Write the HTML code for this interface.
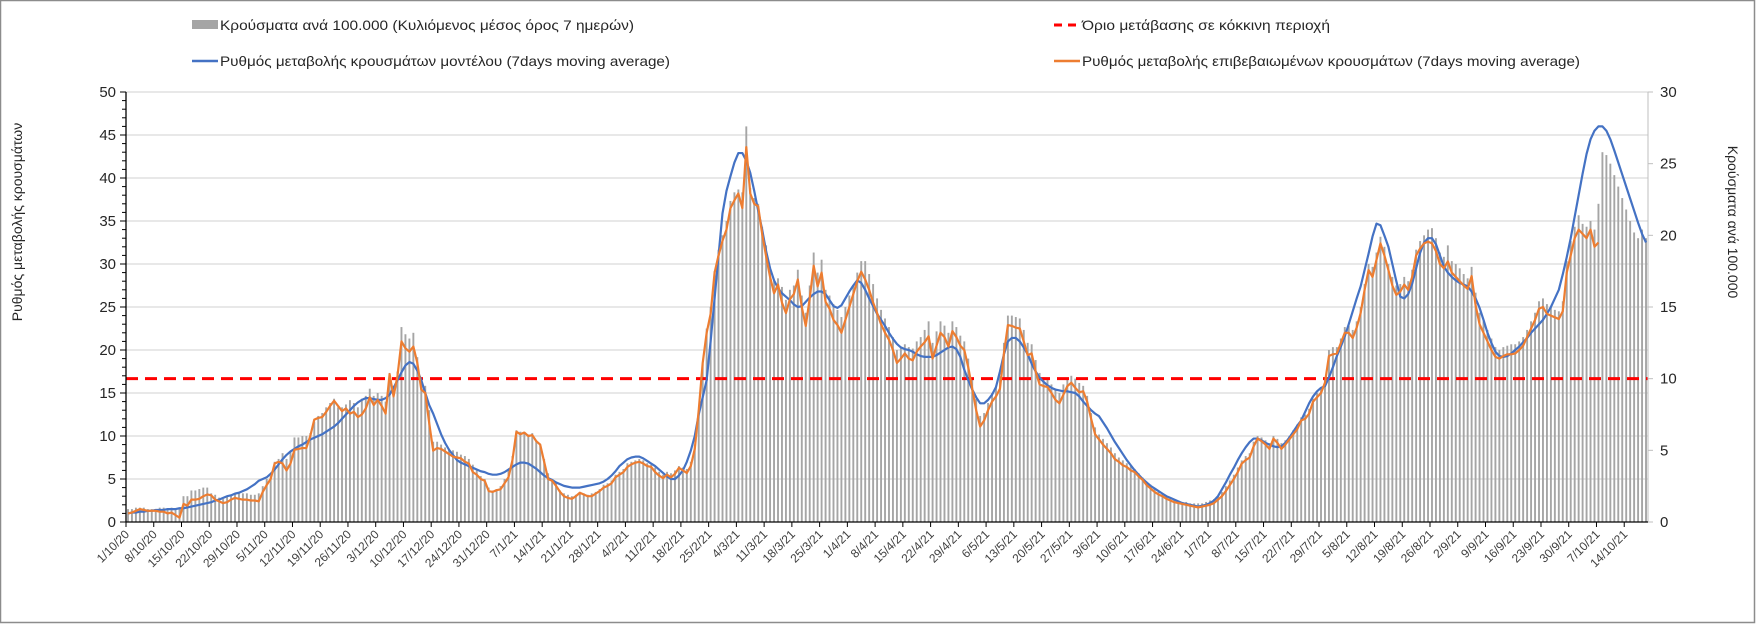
<!DOCTYPE html>
<html>
<head>
<meta charset="utf-8">
<style>
  html,body{margin:0;padding:0;background:#fff;}
  svg{display:block;font-family:"Liberation Sans","DejaVu Sans",sans-serif;}
</style>
</head>
<body>
<svg id="chart" width="1756" height="625" viewBox="0 0 1756 625" xmlns="http://www.w3.org/2000/svg">
  <rect x="0.5" y="0.5" width="1754" height="622" fill="#fff" stroke="#8c8c8c" stroke-width="1.5"/>
  <g id="grid"></g>
  <g id="bars"></g>
  <g id="lines"></g>
  <g id="axes"></g>

  <!-- legend -->
  <g>
    <g>
      <rect x="192" y="20" width="26" height="9" fill="#a5a5a5"/>
      <text x="220" y="30" font-size="14" fill="#262626" textLength="414" lengthAdjust="spacingAndGlyphs">Κρούσματα ανά 100.000 (Κυλιόμενος μέσος όρος 7 ημερών)</text>
    </g>
    <g>
      <line x1="192" y1="61" x2="218" y2="61" stroke="#4472c4" stroke-width="2.5"/>
      <text x="220" y="66" font-size="14" fill="#262626" textLength="450" lengthAdjust="spacingAndGlyphs">Ρυθμός μεταβολής κρουσμάτων μοντέλου (7days moving average)</text>
    </g>
    <g>
      <line x1="1054" y1="25" x2="1080" y2="25" stroke="#ff0000" stroke-width="3" stroke-dasharray="8,6"/>
      <text x="1082" y="30" font-size="14" fill="#262626" textLength="248" lengthAdjust="spacingAndGlyphs">Όριο μετάβασης  σε κόκκινη περιοχή</text>
    </g>
    <g>
      <line x1="1054" y1="61" x2="1080" y2="61" stroke="#ed7d31" stroke-width="2.5"/>
      <text x="1082" y="66" font-size="14" fill="#262626" textLength="498" lengthAdjust="spacingAndGlyphs">Ρυθμός μεταβολής επιβεβαιωμένων κρουσμάτων (7days moving average)</text>
    </g>
  </g>

  <text x="0" y="0" font-size="14" fill="#262626" text-anchor="middle" transform="translate(22,222) rotate(-90)">Ρυθμός μεταβολής κρουσμάτων</text>
  <text x="0" y="0" font-size="14" fill="#262626" text-anchor="middle" transform="translate(1728,222) rotate(90)">Κρούσματα ανά 100.000</text>
</svg>

<script>
// ---- data ----
const startDate = [2020, 9, 1]; // 1 Oct 2020 (month index 9)
const dayCount = 384;
const leftTicks = [0,5,10,15,20,25,30,35,40,45,50];
const rightTicks = [0,5,10,15,20,25,30];
const redThreshold = 10; // right axis units

const modelRate = [
1.0,1.1,1.1,1.2,1.2,1.3,1.3,
1.4,1.4,1.4,1.5,1.5,1.5,1.6,
1.6,1.7,1.8,1.9,2.0,2.1,2.2,
2.3,2.5,2.6,2.8,3.0,3.1,3.3,
3.4,3.6,3.8,4.1,4.4,4.8,5.0,
5.2,5.6,6.1,6.7,7.3,7.8,8.2,
8.5,8.8,9.0,9.3,9.6,9.8,10.0,
10.2,10.5,10.8,11.1,11.5,12.0,12.5,
13.0,13.5,13.9,14.2,14.4,14.4,14.3,
14.2,14.2,14.4,14.8,15.6,16.5,17.4,
18.2,18.6,18.4,17.6,16.5,15.0,13.6,
12.6,11.4,10.2,9.2,8.4,7.8,7.2,
6.9,6.7,6.5,6.3,6.1,5.9,5.8,
5.6,5.5,5.5,5.6,5.8,6.1,6.4,
6.7,6.9,6.9,6.8,6.5,6.2,5.8,
5.4,5.1,4.9,4.6,4.4,4.2,4.1,
4.0,4.0,4.0,4.1,4.2,4.3,4.4,
4.5,4.7,5.0,5.4,5.9,6.5,6.9,
7.3,7.5,7.6,7.6,7.4,7.1,6.8,
6.5,6.1,5.7,5.3,5.0,5.0,5.4,
6.0,7.0,8.3,10.0,12.5,14.5,16.5,
21.0,26.0,31.0,35.9,38.5,40.2,41.8,
42.9,42.9,42.0,40.6,38.5,36.2,34.0,
31.5,29.5,28.1,27.2,26.6,26.2,25.8,
25.3,25.0,25.1,25.6,26.1,26.5,26.8,
26.8,26.5,25.8,25.1,24.9,25.2,26.0,
26.8,27.5,28.1,27.8,27.0,26.0,25.1,
24.2,23.5,22.8,22.0,21.3,20.7,20.3,
20.1,20.0,19.8,19.5,19.3,19.2,19.2,
19.2,19.4,19.7,20.0,20.3,20.4,20.1,
19.2,17.7,16.5,15.4,14.5,13.8,13.8,
14.2,14.8,15.7,17.5,19.5,21.0,21.4,
21.4,21.0,20.3,19.5,18.4,17.5,16.8,
16.3,15.9,15.6,15.4,15.3,15.2,15.2,
15.1,15.0,14.6,14.0,13.5,13.0,12.6,
12.3,11.6,10.9,10.1,9.3,8.6,7.9,
7.2,6.6,6.0,5.5,5.0,4.6,4.2,
3.9,3.6,3.3,3.0,2.8,2.6,2.4,
2.2,2.1,2.0,1.9,1.8,1.9,2.0,
2.2,2.5,3.0,3.8,4.6,5.5,6.3,
7.2,8.0,8.7,9.3,9.7,9.7,9.5,
9.2,9.0,8.8,8.7,8.8,9.2,9.8,
10.5,11.2,11.8,12.8,13.8,14.6,15.2,
15.6,15.8,16.8,18.0,19.3,20.4,21.6,
23.0,24.5,26.0,27.4,29.3,31.2,33.2,
34.7,34.5,33.3,32.0,30.0,28.0,26.2,
26.0,26.5,27.7,29.5,31.3,32.5,33.0,
33.0,32.3,31.0,29.7,29.0,28.5,28.1,
27.8,27.6,27.4,26.8,26.0,24.9,23.5,
22.0,20.8,19.8,19.3,19.2,19.3,19.6,
20.0,20.4,20.9,21.4,22.0,22.5,23.0,
23.5,24.2,25.0,26.0,27.0,28.8,30.8,
33.0,35.5,38.0,40.5,42.8,44.5,45.5,
46.0,46.0,45.5,44.5,43.2,41.8,40.4,
39.0,37.6,36.2,34.8,33.5,32.5
];

const confirmedRate = [
1.0,1.1,1.3,1.5,1.4,1.3,1.3,
1.3,1.2,1.2,1.0,1.1,0.8,0.5,
2.1,1.9,2.6,2.6,2.7,3.0,3.2,
3.1,2.6,2.4,2.2,2.3,2.6,2.8,
2.7,2.6,2.6,2.5,2.5,2.4,3.5,
4.3,5.0,6.8,7.0,6.8,6.0,6.8,
8.4,8.5,8.6,8.6,10.0,11.9,12.1,
12.2,12.8,13.5,14.1,13.5,12.9,13.2,
12.6,12.8,12.2,12.5,13.2,14.5,13.6,
14.2,13.5,12.6,17.2,14.6,17.0,21.0,
20.2,19.8,20.4,18.5,15.4,15.0,11.5,
8.3,8.6,8.5,8.2,7.9,7.6,7.5,
7.4,7.0,6.8,5.8,5.5,5.0,4.8,
3.6,3.5,3.7,3.8,4.5,5.2,7.2,
10.5,10.2,10.4,10.0,10.1,9.4,9.0,
7.0,5.0,4.8,4.2,3.5,3.0,2.8,
2.7,3.0,3.4,3.2,3.0,3.0,3.3,
3.6,4.0,4.2,4.5,5.2,5.5,5.8,
6.4,6.7,6.9,7.0,6.8,6.5,6.4,
5.8,5.4,5.1,5.5,5.2,5.6,6.3,
6.0,5.7,6.5,8.5,13.0,18.5,22.0,
24.2,29.0,31.0,32.7,34.0,36.5,37.4,
38.2,36.5,43.6,38.2,37.0,36.7,33.5,
30.9,28.5,26.6,27.6,25.5,24.3,25.9,
26.5,28.2,25.0,22.8,26.0,29.8,27.4,
29.0,25.6,24.8,23.5,22.9,22.0,23.5,
25.0,26.5,28.0,29.1,28.2,27.0,25.5,
24.3,23.0,22.0,21.2,20.0,18.5,19.0,
19.6,19.0,18.8,19.8,20.4,20.9,21.6,
19.0,20.5,22.0,21.5,20.4,22.2,21.5,
20.5,20.0,18.0,15.5,13.0,11.1,11.8,
13.0,14.0,14.6,15.5,19.6,22.9,22.8,
22.6,22.5,21.0,19.4,19.6,17.5,16.0,
15.8,15.7,15.0,14.2,13.8,14.8,15.8,
16.2,15.6,15.1,15.2,14.0,12.0,10.2,
9.6,9.0,8.5,8.0,7.3,7.0,6.6,
6.4,6.0,5.8,5.3,4.9,4.3,3.9,
3.5,3.2,3.0,2.7,2.5,2.3,2.2,
2.1,2.0,1.9,1.8,1.7,1.8,1.9,
2.0,2.2,2.6,3.0,3.6,4.3,5.0,
5.8,6.8,7.2,7.5,8.8,9.7,9.4,
9.0,8.5,9.7,9.2,8.5,9.0,9.6,
10.2,10.8,11.8,12.0,12.6,14.0,14.5,
15.0,16.2,19.3,19.5,19.6,20.8,22.0,
22.0,21.4,22.6,24.3,27.0,29.3,28.5,
30.5,32.4,31.0,29.3,27.5,26.4,26.8,
27.6,27.0,28.5,31.0,31.8,32.4,32.6,
32.4,31.5,30.0,29.5,30.3,29.0,28.5,
28.0,27.5,27.1,28.6,25.2,23.0,22.0,
21.0,20.0,19.2,19.0,19.3,19.5,19.5,
19.6,20.0,20.5,21.5,22.5,23.5,24.8,
25.0,24.2,24.0,23.8,23.6,24.5,29.0,
31.0,33.0,34.0,33.5,33.0,34.0,32.0,
32.5
];

const casesPer100k = [
0.9,0.9,1.0,1.0,1.0,0.9,0.9,
0.9,1.0,1.0,0.9,1.0,0.9,1.0,
1.8,1.8,2.2,2.2,2.3,2.4,2.4,
2.0,1.9,1.7,1.6,1.8,1.9,2.0,
2.0,2.0,2.0,1.9,1.9,2.0,2.5,
3.0,3.2,4.2,4.4,4.8,4.4,4.9,
5.9,5.9,6.0,6.0,6.2,7.0,7.4,
7.6,8.0,8.3,8.6,8.0,8.0,8.2,
8.5,8.3,8.0,8.6,8.8,9.3,8.8,
9.0,8.8,8.4,10.4,9.5,10.5,13.6,
13.1,12.8,13.2,11.5,10.0,9.5,7.8,
5.6,5.6,5.4,5.2,5.1,5.0,4.9,
4.7,4.6,4.4,4.0,3.6,3.2,3.0,
2.4,2.2,2.3,2.5,3.0,3.6,4.6,
6.4,6.3,6.2,6.1,6.2,5.7,5.4,
4.4,3.4,3.0,2.7,2.2,2.0,1.9,
1.8,1.9,2.1,2.0,1.9,2.0,2.1,
2.3,2.6,2.7,2.9,3.3,3.5,3.7,
4.1,4.2,4.3,4.4,4.3,4.1,4.0,
3.8,3.5,3.3,3.5,3.4,3.6,3.9,
3.8,3.7,4.2,5.4,7.8,11.0,13.5,
15.0,17.5,19.0,20.0,21.0,22.4,23.0,
23.2,23.0,27.6,23.3,22.6,22.2,20.6,
19.3,17.8,16.8,17.0,16.4,15.5,16.2,
16.5,17.6,15.8,14.6,16.5,18.8,17.4,
18.3,16.2,15.8,15.2,14.8,14.3,15.0,
15.8,16.5,17.4,18.2,18.2,17.3,16.6,
15.6,14.8,14.2,13.6,12.9,12.0,12.2,
12.4,12.2,12.1,12.6,12.9,13.4,14.0,
12.5,13.3,14.0,13.7,13.2,14.0,13.6,
13.0,12.6,11.4,10.0,8.6,7.4,7.6,
8.3,9.0,9.5,10.2,12.5,14.4,14.4,
14.3,14.2,13.4,12.5,12.4,11.3,10.4,
10.1,10.0,9.6,9.2,9.0,9.6,10.0,
10.2,10.0,9.7,9.5,8.8,7.6,6.6,
6.1,5.8,5.5,5.2,4.8,4.5,4.3,
4.1,3.9,3.7,3.4,3.1,2.8,2.6,
2.3,2.1,2.0,1.8,1.7,1.6,1.5,
1.4,1.4,1.3,1.3,1.3,1.3,1.4,
1.5,1.6,1.8,2.1,2.5,2.9,3.3,
3.8,4.3,4.6,4.8,5.6,6.0,5.9,
5.7,5.5,6.0,5.8,5.5,5.7,6.0,
6.4,6.8,7.3,7.5,7.9,8.6,9.0,
9.4,10.0,12.0,12.2,12.2,12.8,13.6,
13.7,13.4,14.0,15.0,16.6,18.0,17.8,
18.8,19.9,19.2,18.0,17.1,16.5,16.6,
17.1,16.8,17.6,19.0,19.6,20.0,20.4,
20.5,19.8,18.8,18.5,19.3,18.2,18.0,
17.7,17.3,17.0,17.8,16.0,14.6,14.0,
13.4,12.8,12.2,12.0,12.2,12.3,12.4,
12.4,12.6,12.9,13.4,14.0,14.6,15.4,
15.6,15.2,15.0,14.8,14.7,15.4,18.2,
19.6,20.6,21.4,20.8,20.6,21.0,20.4,
22.2,25.8,25.6,25.0,24.2,23.4,22.6,
21.8,21.0,20.2,19.8,20.4,19.8
];

// ---- layout ----
const NS = "http://www.w3.org/2000/svg";
const plotL = 126, plotR = 1648, plotT = 92, plotB = 522;
const leftMax = 50, rightMax = 30;
const band = (plotR - plotL) / dayCount;
function xEdge(i){ return plotL + i * band; }
function xCenter(i){ return plotL + (i + 0.5) * band; }
function yLeft(v){ return plotB - v / leftMax * (plotB - plotT); }
function yRight(v){ return plotB - v / rightMax * (plotB - plotT); }
function mk(tag, attrs, parent){
  const el = document.createElementNS(NS, tag);
  for (const k in attrs) el.setAttribute(k, attrs[k]);
  parent.appendChild(el);
  return el;
}
const gGrid = document.getElementById('grid');
const gBars = document.getElementById('bars');
const gLines = document.getElementById('lines');
const gAxes = document.getElementById('axes');

// gridlines
leftTicks.forEach(function(t){
  if (t === 0) return;
  const l = mk('line', {x1: plotL, x2: plotR, y1: yLeft(t), y2: yLeft(t), stroke: '#d9d9d9', 'stroke-width': 1.3}, gGrid);
  
  
});

// bars
casesPer100k.forEach(function(v, i){
  const y = yRight(v);
  const r = mk('rect', {x: xCenter(i) - 0.95, y: y, width: 1.9, height: plotB - y, fill: '#a5a5a5'}, gBars);
  
  
});

// red threshold
const thr = mk('line', {x1: plotL, x2: plotR, y1: yRight(redThreshold), y2: yRight(redThreshold), stroke: '#ff0000', 'stroke-width': 3, 'stroke-dasharray': '12,7'}, gLines);



function linePath(arr){
  let d = '';
  arr.forEach(function(v, i){
    if (v === null || v === undefined) return;
    d += (d ? 'L' : 'M') + xCenter(i).toFixed(2) + ',' + yLeft(v).toFixed(2);
  });
  return d;
}
const pBlue = mk('path', {d: linePath(modelRate), fill: 'none', stroke: '#4472c4', 'stroke-width': 2.2, 'stroke-linejoin': 'round'}, gLines);


const pOrange = mk('path', {d: linePath(confirmedRate), fill: 'none', stroke: '#ed7d31', 'stroke-width': 2.2, 'stroke-linejoin': 'round'}, gLines);



// left axis
const la = mk('line', {x1: plotL, x2: plotL, y1: plotT, y2: plotB, stroke: '#000', 'stroke-width': 1.3}, gAxes);


for (let v = 0; v <= leftMax; v++){
  const major = v % 5 === 0;
  const t = mk('line', {x1: plotL - (major ? 6 : 4), x2: plotL, y1: yLeft(v), y2: yLeft(v), stroke: '#000', 'stroke-width': 1}, gAxes);
  
  
}
leftTicks.forEach(function(t){
  const tx = mk('text', {x: plotL - 10, y: yLeft(t) + 5, 'font-size': 15, fill: '#262626', 'text-anchor': 'end'}, gAxes);
  tx.textContent = t;
  
  
});

// right axis
const ra = mk('line', {x1: plotR, x2: plotR, y1: plotT, y2: plotB, stroke: '#bfbfbf', 'stroke-width': 1}, gAxes);


rightTicks.forEach(function(t){
  const tk = mk('line', {x1: plotR, x2: plotR + 5, y1: yRight(t), y2: yRight(t), stroke: '#bfbfbf', 'stroke-width': 1}, gAxes);
  
  
  const tx = mk('text', {x: plotR + 12, y: yRight(t) + 5, 'font-size': 15, fill: '#262626'}, gAxes);
  tx.textContent = t;
  
  
});

// x axis
const xa = mk('line', {x1: plotL, x2: plotR, y1: plotB, y2: plotB, stroke: '#000', 'stroke-width': 1.3}, gAxes);


for (let i = 0; i < dayCount; i += 7){
  const x = xEdge(i);
  const tk = mk('line', {x1: x, x2: x, y1: plotB, y2: plotB + 5, stroke: '#000', 'stroke-width': 1}, gAxes);
  
  
  const d = new Date(startDate[0], startDate[1], startDate[2] + i);
  const lbl = d.getDate() + '/' + (d.getMonth() + 1) + '/' + String(d.getFullYear()).slice(2);
  const tx = mk('text', {x: 0, y: 0, 'font-size': 12, fill: '#404040', 'text-anchor': 'end', transform: 'translate(' + (x + 4) + ',' + (plotB + 13) + ') rotate(-45)'}, gAxes);
  tx.textContent = lbl;
  
  
}
</script>
</body>
</html>
